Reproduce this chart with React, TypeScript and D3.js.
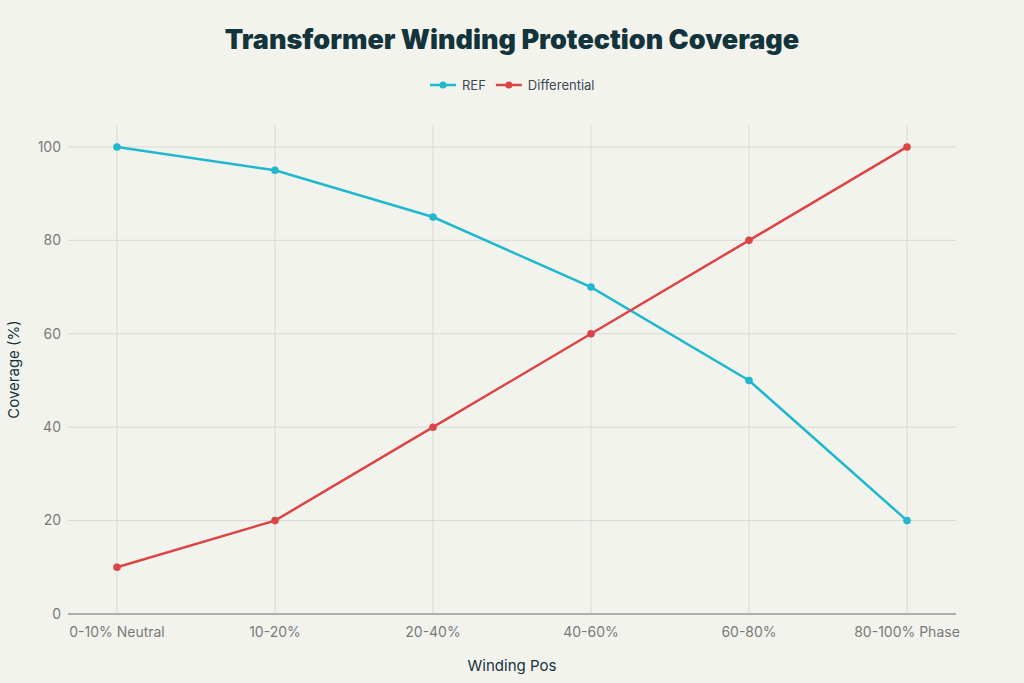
import * as d3 from "d3";
import { useEffect, useRef } from "react";

// chart data
const categories = ["0-10% Neutral", "10-20%", "20-40%", "40-60%", "60-80%", "80-100% Phase"];
const refValues = [100, 95, 85, 70, 50, 20];
const diffValues = [10, 20, 40, 60, 80, 100];
const yTicks = [0, 20, 40, 60, 80, 100];

const seriesList = [
  { name: "REF", values: refValues, color: "#1FB8CD" },
  { name: "Differential", values: diffValues, color: "#DB4545" },
];

export default function App() {
  const svgRef = useRef<SVGSVGElement>(null);

  useEffect(() => {
    const width = 1024;
    const height = 683;
    const margin = { top: 125, right: 68, bottom: 69, left: 68 };

    const svg = d3.select(svgRef.current);
    svg.selectAll("*").remove();

    svg.append("rect").attr("width", width).attr("height", height).attr("fill", "#F3F3EE");

    const x = d3
      .scalePoint<string>()
      .domain(categories)
      .range([margin.left, width - margin.right])
      .padding(0.31);

    const y = d3
      .scaleLinear()
      .domain([0, 104.7])
      .range([height - margin.bottom, margin.top]);

    const font = "Inter, 'Open Sans', sans-serif";

    // gridlines
    const grid = svg.append("g");
    grid
      .selectAll("line.h")
      .data(yTicks.filter((d) => d > 0))
      .enter()
      .append("line")
      .attr("x1", margin.left)
      .attr("x2", width - margin.right)
      .attr("y1", (d) => y(d))
      .attr("y2", (d) => y(d))
      .attr("stroke", "#DADAD5")
      .attr("stroke-width", 1);
    grid
      .selectAll("line.v")
      .data(categories)
      .enter()
      .append("line")
      .attr("x1", (d) => x(d)!)
      .attr("x2", (d) => x(d)!)
      .attr("y1", margin.top)
      .attr("y2", height - margin.bottom)
      .attr("stroke", "#DADAD5")
      .attr("stroke-width", 1);

    // zero line
    svg
      .append("line")
      .attr("x1", margin.left)
      .attr("x2", width - margin.right)
      .attr("y1", y(0))
      .attr("y2", y(0))
      .attr("stroke", "#6B6B6B")
      .attr("stroke-width", 1.2);

    // y tick labels
    svg
      .append("g")
      .selectAll("text")
      .data(yTicks)
      .enter()
      .append("text")
      .attr("x", margin.left - 7)
      .attr("y", (d) => y(d))
      .attr("dy", "0.35em")
      .attr("text-anchor", "end")
      .attr("font-family", font)
      .attr("font-size", 14)
      .attr("fill", "#7A7A7A")
      .text((d) => d);

    // x tick labels
    svg
      .append("g")
      .selectAll("text")
      .data(categories)
      .enter()
      .append("text")
      .attr("x", (d) => x(d)!)
      .attr("y", y(0) + 23)
      .attr("text-anchor", "middle")
      .attr("font-family", font)
      .attr("font-size", 14)
      .attr("fill", "#7A7A7A")
      .text((d) => d);

    // lines and markers
    const line = d3
      .line<number>()
      .x((d, i) => x(categories[i])!)
      .y((d) => y(d));

    seriesList.forEach((s) => {
      svg
        .append("path")
        .datum(s.values)
        .attr("d", line)
        .attr("fill", "none")
        .attr("stroke", s.color)
        .attr("stroke-width", 2.5);
      svg
        .append("g")
        .selectAll("circle")
        .data(s.values)
        .enter()
        .append("circle")
        .attr("cx", (d, i) => x(categories[i])!)
        .attr("cy", (d) => y(d))
        .attr("r", 3.8)
        .attr("fill", s.color);
    });

    // title
    svg
      .append("text")
      .attr("x", width / 2)
      .attr("y", 49)
      .attr("text-anchor", "middle")
      .attr("font-family", font)
      .attr("font-weight", 900)
      .attr("font-size", 27)
      .attr("fill", "#13343B")
      .text("Transformer Winding Protection Coverage");

    // legend
    const legend = svg.append("g");
    let lx = 430;
    seriesList.forEach((s) => {
      legend
        .append("line")
        .attr("x1", lx)
        .attr("x2", lx + 26)
        .attr("y1", 85)
        .attr("y2", 85)
        .attr("stroke", s.color)
        .attr("stroke-width", 2.5);
      legend
        .append("circle")
        .attr("cx", lx + 13)
        .attr("cy", 85)
        .attr("r", 3.5)
        .attr("fill", s.color);
      const t = legend
        .append("text")
        .attr("x", lx + 32)
        .attr("y", 85)
        .attr("dy", "0.35em")
        .attr("font-family", font)
        .attr("font-size", 13)
        .attr("fill", "#3A4A50")
        .text(s.name);
      lx += 32 + (t.node() as SVGTextElement).getComputedTextLength() + 10;
    });

    // axis titles
    svg
      .append("text")
      .attr("x", width / 2)
      .attr("y", 671)
      .attr("text-anchor", "middle")
      .attr("font-family", font)
      .attr("font-size", 15)
      .attr("fill", "#13343B")
      .text("Winding Pos");

    svg
      .append("text")
      .attr("transform", `translate(19,${(margin.top + height - margin.bottom) / 2}) rotate(-90)`)
      .attr("text-anchor", "middle")
      .attr("font-family", font)
      .attr("font-size", 15)
      .attr("fill", "#13343B")
      .text("Coverage (%)");
  }, []);

  return <svg ref={svgRef} width={1024} height={683} style={{ display: "block", position: "absolute", left: 0, top: 0 }} />;
}
